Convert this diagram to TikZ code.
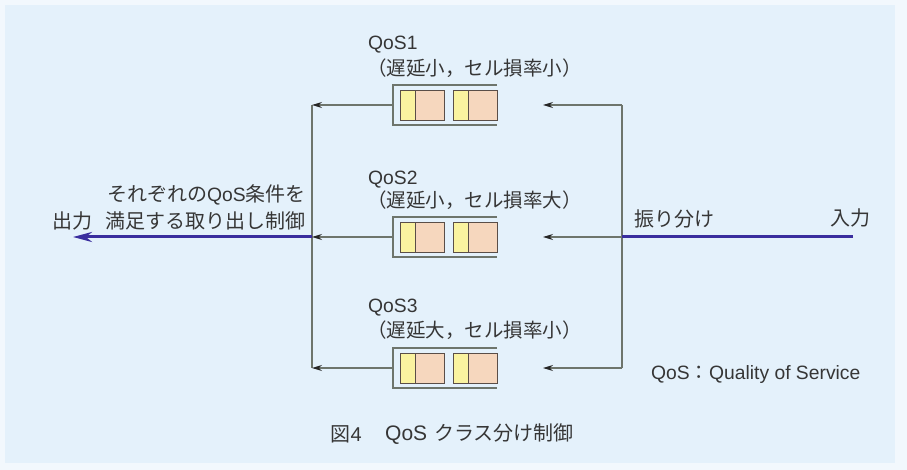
\documentclass[tikz,border=0pt]{standalone}
\usepackage{fontspec}
\setmainfont{Noto Sans CJK JP}
\newfontfamily\latf{Liberation Sans}
\usetikzlibrary{arrows.meta}
\definecolor{bg}{HTML}{E4F1FB}
\definecolor{bgedge}{HTML}{F2F8FD}
\definecolor{qyellow}{HTML}{FAF3A0}
\definecolor{qpeach}{HTML}{F6D7BE}
\definecolor{cellline}{HTML}{5A4E48}
\definecolor{linegray}{HTML}{6E756C}
\definecolor{flow}{HTML}{3A2E9E}
\definecolor{txt}{HTML}{363636}
\tikzset{
  qbox/.style={rectangle,minimum width=104pt,minimum height=40pt,inner sep=0pt,outer sep=0pt},
  boxline/.style={draw=linegray,line width=1.2pt},
  cellY/.style={fill=qyellow,draw=cellline,line width=0.9pt},
  cellP/.style={fill=qpeach,draw=cellline,line width=0.9pt},
  conn/.style={draw=linegray,line width=1.1pt},
  tip/.style={-{Stealth[length=10pt,width=6pt,black!85]}},
  flowline/.style={draw=flow,line width=3pt},
  jp/.style={inner sep=0pt,font=\fontsize{20}{24}\selectfont,text=txt},
  jps/.style={inner sep=0pt,font=\fontsize{19.5}{23}\selectfont,text=txt},
  lat/.style={inner sep=0pt,font=\latf\fontsize{19.3}{22}\selectfont,text=txt}
}
\begin{document}
\begin{tikzpicture}[x=1pt,y=-1pt]
\useasboundingbox (0,0) rectangle (907,470);
\fill[bgedge] (0,0) rectangle (907,470);
\fill[bg] (5,5) rectangle (895,463);

% queues
\node[qbox] (q1) at (445,105) {};
\node[qbox] (q2) at (445,237) {};
\node[qbox] (q3) at (445,368) {};
\foreach \q in {q1,q2,q3}{
  \draw[boxline] (\q.north east) -- (\q.north west) -- (\q.south west) -- (\q.south east);
  \begin{scope}[shift={(\q.west)}]
    \draw[cellY] (7.5,-15) rectangle (22,15);
    \draw[cellP] (22,-15) rectangle (51,15);
    \draw[cellY] (60,-15) rectangle (75,15);
    \draw[cellP] (75,-15) rectangle (104,15);
  \end{scope}
}

% coordinates
\coordinate (L1) at (312,105);
\coordinate (L2) at (312,237);
\coordinate (L3) at (312,368);
\coordinate (R1) at (622,105);
\coordinate (R2) at (622,237);
\coordinate (R3) at (622,368);
\coordinate (A1) at (543,105);
\coordinate (A2) at (543,237);
\coordinate (A3) at (543,368);
\coordinate (in) at (853,237);
\coordinate (out) at (73,237);

% connectors
\draw[conn] (L1) -- (L3);
\draw[conn] (R1) -- (R3);
\draw[conn,tip] (q1.west) -- (L1);
\draw[conn,tip] (q2.west) -- (L2);
\draw[conn,tip] (q3.west) -- (L3);
\draw[conn,tip] (R1) -- (A1);
\draw[conn,tip] (R2) -- (A2);
\draw[conn,tip] (R3) -- (A3);
\draw[flowline] (in) -- (R2);
\draw[flowline,-{Stealth[length=19pt,width=10pt,flow]}] (L2) -- (out);

% labels
\node[lat,anchor=west] (n1) at (368,45) {QoS1};
\node[jps,anchor=west] (c1) at (367,68) {（遅延小，セル損率小）};
\node[lat,anchor=west] (n2) at (368,180) {QoS2};
\node[jps,anchor=west] (c2) at (367,200) {（遅延小，セル損率大）};
\node[lat,anchor=west] (n3) at (368,308) {QoS3};
\node[jps,anchor=west] (c3) at (367,330) {（遅延大，セル損率小）};
\node[jp,anchor=east] (ctl1) at (306,195) {それぞれの{\latf\fontsize{19.3}{22}\selectfont QoS}条件を};
\node[jp,anchor=east] (ctl2) at (306,221) {満足する取り出し制御};
\node[jp,anchor=west] (outl) at (52,221) {出力};
\node[jp,anchor=west] (dist) at (634,219) {振り分け};
\node[jp,anchor=east] (inl) at (871,218) {入力};
\node[lat,anchor=west] (abbr) at (651,375) {QoS{\rmfamily：}Quality of Service};
\node[jp,anchor=east] (capa) at (362,434) {図{\latf 4}};
\node[jp,anchor=west] (capb) at (385,434) {{\latf\fontsize{21}{24}\selectfont QoS}\hspace{7pt}クラス分け制御};
\end{tikzpicture}
\end{document}
